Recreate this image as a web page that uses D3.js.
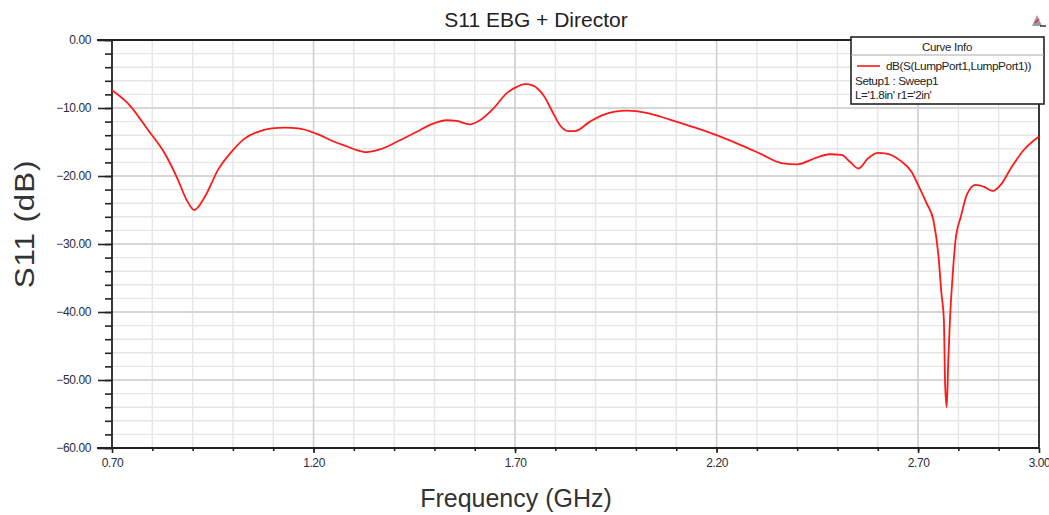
<!DOCTYPE html>
<html>
<head>
<meta charset="utf-8">
<script src="https://cdn.jsdelivr.net/npm/d3@7/dist/d3.min.js"></script>
<style>
  html, body { margin: 0; padding: 0; background: #fff; }
  svg { display: block; font-family: "Liberation Sans", Arial, sans-serif; }
</style>
</head>
<body>
<svg id="chart" width="1049" height="515"></svg>
<script>
// Frequency sweep (GHz) and return loss S11 (dB)
const freqGHz = [0.700, 0.744, 0.789, 0.831, 0.864, 0.885, 0.904, 0.930, 0.963, 1.000,
  1.029, 1.062, 1.096, 1.130, 1.162, 1.195, 1.216, 1.253, 1.285, 1.307, 1.331, 1.364,
  1.406, 1.456, 1.497, 1.530, 1.555, 1.588, 1.613, 1.646, 1.679, 1.704, 1.724, 1.745,
  1.770, 1.795, 1.811, 1.832, 1.848, 1.886, 1.919, 1.977, 2.026, 2.084, 2.142, 2.200,
  2.250, 2.308, 2.361, 2.399, 2.448, 2.481, 2.510, 2.531, 2.552, 2.576, 2.601, 2.622,
  2.655, 2.684, 2.700, 2.721, 2.738, 2.750, 2.758, 2.764, 2.767, 2.771, 2.775, 2.779,
  2.785, 2.793, 2.806, 2.822, 2.843, 2.864, 2.885, 2.905, 2.930, 2.959, 3.000];
const s11dB = [-7.4, -9.6, -13.2, -16.7, -20.6, -23.5, -25.0, -23.1, -19.1, -16.2,
  -14.5, -13.5, -13.0, -12.9, -13.0, -13.5, -14.0, -15.0, -15.7, -16.2, -16.5, -16.1,
  -15.0, -13.5, -12.3, -11.8, -11.9, -12.4, -11.8, -10.1, -7.85, -6.9, -6.5, -6.7,
  -8.1, -10.8, -12.5, -13.4, -13.4, -12.0, -11.0, -10.4, -10.7, -11.7, -12.8, -14.0,
  -15.2, -16.7, -18.1, -18.3, -17.3, -16.8, -16.9, -17.9, -18.9, -17.4, -16.6, -16.7,
  -17.7, -19.4, -21.3, -24.0, -26.5, -31.4, -37.3, -41.2, -50.5, -54.0, -47.0, -41.2,
  -35.3, -29.4, -26.0, -22.6, -21.3, -21.6, -22.2, -21.3, -18.9, -16.4, -14.2];

const xTickValues = [0.70, 1.20, 1.70, 2.20, 2.70, 3.00];
const yTickValues = [0, -10, -20, -30, -40, -50, -60];
const chartTitle = "S11 EBG + Director";
const xLabel = "Frequency (GHz)";
const yLabel = "S11 (dB)";
const legendTitle = "Curve Info";
const legendLines = ["dB(S(LumpPort1,LumpPort1))", "Setup1 : Sweep1", "L='1.8in' r1='2in'"];

const svg = d3.select("#chart");
const plot = { left: 112, right: 1039, top: 40, bottom: 448 };

const x = d3.scaleLinear().domain([0.7, 3.0]).range([plot.left, plot.right]);
const y = d3.scaleLinear().domain([0, -60]).range([plot.top, plot.bottom]);

// Minor grid (0.1 GHz, 2 dB)
const xMinor = d3.range(8, 30).map(d => d / 10);
const yMinor = d3.range(0, -61, -2);
svg.append("g").selectAll("line").data(xMinor).join("line")
  .attr("x1", d => x(d)).attr("x2", d => x(d))
  .attr("y1", plot.top).attr("y2", plot.bottom)
  .attr("stroke", "#e6e6e6").attr("stroke-width", 1.4);
svg.append("g").selectAll("line").data(yMinor).join("line")
  .attr("x1", plot.left).attr("x2", plot.right)
  .attr("y1", d => y(d)).attr("y2", d => y(d))
  .attr("stroke", "#e6e6e6").attr("stroke-width", 1.4);

// Major grid
svg.append("g").selectAll("line").data(xTickValues.slice(1, -1)).join("line")
  .attr("x1", d => x(d)).attr("x2", d => x(d))
  .attr("y1", plot.top).attr("y2", plot.bottom)
  .attr("stroke", "#cfcfcf").attr("stroke-width", 1.4);
svg.append("g").selectAll("line").data(yTickValues.slice(1, -1)).join("line")
  .attr("x1", plot.left).attr("x2", plot.right)
  .attr("y1", d => y(d)).attr("y2", d => y(d))
  .attr("stroke", "#cfcfcf").attr("stroke-width", 1.4);

const tickFont = sel => sel.attr("font-size", 12).attr("fill", "#2b2b3a")
  .attr("letter-spacing", "-0.4").attr("font-family", "Liberation Sans, Arial, sans-serif");

// Y axis with major and minor ticks
const yAxisMinor = d3.axisLeft(y).tickValues(yMinor).tickSize(7).tickFormat("");
svg.append("g").attr("transform", `translate(${plot.left},0)`).call(yAxisMinor);
const yAxisMajor = d3.axisLeft(y).tickValues(yTickValues).tickSize(14).tickPadding(7)
  .tickFormat(d3.format(".2f"));
const yMaj = svg.append("g").attr("transform", `translate(${plot.left},0)`).call(yAxisMajor);
yMaj.selectAll("text").call(tickFont);

// X axis with major and minor ticks
const xAxisMinor = d3.axisBottom(x).tickValues(xMinor).tickSize(3).tickFormat("");
svg.append("g").attr("transform", `translate(0,${plot.bottom})`).call(xAxisMinor);
const xAxisMajor = d3.axisBottom(x).tickValues(xTickValues).tickSize(5).tickPadding(5)
  .tickFormat(d3.format(".2f"));
const xMaj = svg.append("g").attr("transform", `translate(0,${plot.bottom})`).call(xAxisMajor);
xMaj.selectAll("text").call(tickFont);

svg.selectAll(".domain").remove();
svg.selectAll(".tick line").attr("stroke", "#222").attr("stroke-width", 1.6);

// Plot frame
svg.append("line").attr("x1", plot.left - 15).attr("x2", plot.right)
  .attr("y1", plot.top).attr("y2", plot.top).attr("stroke", "#222").attr("stroke-width", 1.8);
svg.append("line").attr("x1", plot.left - 15).attr("x2", plot.right)
  .attr("y1", plot.bottom).attr("y2", plot.bottom).attr("stroke", "#222").attr("stroke-width", 1.8);
svg.append("line").attr("x1", plot.left).attr("x2", plot.left)
  .attr("y1", plot.top).attr("y2", plot.bottom).attr("stroke", "#222").attr("stroke-width", 1.8);
svg.append("line").attr("x1", plot.right).attr("x2", plot.right)
  .attr("y1", plot.top).attr("y2", plot.bottom).attr("stroke", "#222").attr("stroke-width", 1.8);

// S11 trace
const line = d3.line()
  .x((d, i) => x(freqGHz[i]))
  .y(d => y(d))
  .curve(d3.curveMonotoneX);
svg.append("path").datum(s11dB)
  .attr("d", line)
  .attr("fill", "none")
  .attr("stroke", "#ff1a1a")
  .attr("stroke-width", 1.8)
  .attr("stroke-linejoin", "round");

// Title and axis labels
svg.append("text").attr("x", 536).attr("y", 27).attr("text-anchor", "middle")
  .attr("font-size", 21).attr("fill", "#222").text(chartTitle);
svg.append("text").attr("x", 516).attr("y", 507).attr("text-anchor", "middle")
  .attr("font-size", 25).attr("fill", "#333").text(xLabel);
svg.append("text").attr("transform", "translate(34,224) rotate(-90) scale(1.12,1)")
  .attr("text-anchor", "middle").attr("font-size", 28).attr("letter-spacing", "0.8")
  .attr("fill", "#333").text(yLabel);

// Legend box
const lg = svg.append("g").attr("transform", "translate(851,37)");
lg.append("rect").attr("width", 193).attr("height", 67)
  .attr("fill", "#fff").attr("stroke", "#222").attr("stroke-width", 1.6);
lg.append("line").attr("x1", 0).attr("x2", 193).attr("y1", 18).attr("y2", 18)
  .attr("stroke", "#aaa").attr("stroke-width", 1);
lg.append("text").attr("x", 96).attr("y", 13.5).attr("text-anchor", "middle")
  .attr("font-size", 11.5).attr("fill", "#222").attr("letter-spacing", "-0.3").text(legendTitle);
lg.append("line").attr("x1", 6).attr("x2", 29).attr("y1", 29).attr("y2", 29)
  .attr("stroke", "#ff1a1a").attr("stroke-width", 1.6);
lg.selectAll("text.entry").data(legendLines).join("text").attr("class", "entry")
  .attr("x", (d, i) => i === 0 ? 35 : 4)
  .attr("y", (d, i) => 33 + i * 14.5)
  .attr("font-size", 11.8).attr("fill", "#222").attr("letter-spacing", "-0.45")
  .text(d => d);

// Small corner marker
const mk = svg.append("g").attr("transform", "translate(1037,20)");
mk.append("path").attr("d", "M-5,6 L0,-5 L5,6 Z").attr("fill", "#9a9aa8");
mk.append("path").attr("d", "M-2,3 L2,-1").attr("stroke", "#e03030").attr("stroke-width", 1.5);
mk.append("line").attr("x1", 3).attr("x2", 9).attr("y1", 6).attr("y2", 6).attr("stroke", "#333").attr("stroke-width", 1.5);
</script>
</body>
</html>
